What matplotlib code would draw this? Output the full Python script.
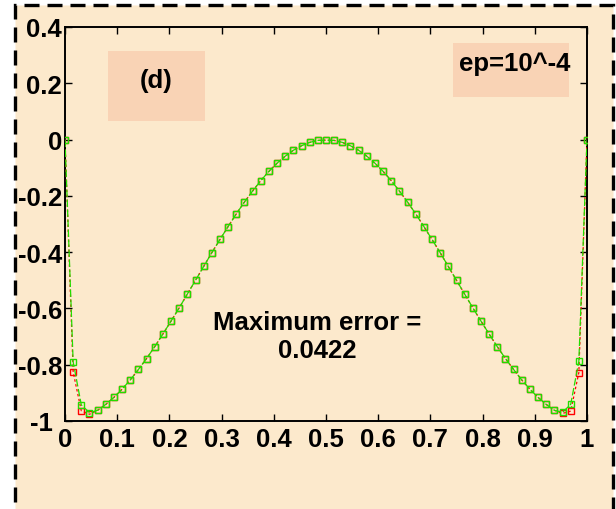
import numpy as np
import matplotlib
matplotlib.use("Agg")
import matplotlib.pyplot as plt
from matplotlib.patches import Rectangle
from matplotlib.transforms import ScaledTranslation

plt.rcParams['font.family'] = ['Liberation Sans', 'DejaVu Sans']
plt.rcParams['font.weight'] = 'bold'

# ---- data ----
n_pts = 65
x_vals = np.arange(n_pts) / (n_pts - 1)

half_interior = [-0.962, -0.941, -0.916, -0.887, -0.854, -0.817, -0.778, -0.736,
                 -0.691, -0.645, -0.598, -0.549, -0.500, -0.451, -0.402, -0.355,
                 -0.309, -0.264, -0.222, -0.183, -0.146, -0.113, -0.084, -0.059,
                 -0.038, -0.022, -0.010, -0.003]
peak = [-0.002]

green_left = [0.0, -0.790, -0.943, -0.970]
green_right = [-0.969, -0.941, -0.788, 0.0]
red_left = [0.0, -0.826, -0.964, -0.976]
red_right = [-0.973, -0.965, -0.828, 0.0]

green_vals = green_left + half_interior + peak + half_interior[::-1] + green_right
red_vals = red_left + half_interior + peak + half_interior[::-1] + red_right

x_ticks = [0, 0.1, 0.2, 0.3, 0.4, 0.5, 0.6, 0.7, 0.8, 0.9, 1]
x_tick_labels = ['0', '0.1', '0.2', '0.3', '0.4', '0.5', '0.6', '0.7', '0.8', '0.9', '1']
y_ticks = [-1, -0.8, -0.6, -0.4, -0.2, 0, 0.2, 0.4]
y_tick_labels = ['-1', '-0.8', '-0.6', '-0.4', '-0.2', '0', '0.2', '0.4']

label_d = '(d)'
label_ep = 'ep=10^-4'
error_text = 'Maximum error =\n0.0422'

beige = '#FCE9CC'
box_col = '#F9D3B5'

fig = plt.figure(figsize=(6.16, 5.10), dpi=100)
fig.patch.set_facecolor('white')
border = Rectangle((15/616, -0.05), (613-15)/616, 1.05 - 6/510,
                   transform=fig.transFigure, facecolor=beige, edgecolor='black',
                   linewidth=2.4, linestyle=(0, (4.5, 2.4)), zorder=-10)
fig.add_artist(border)

ax = fig.add_axes([65/616, 1-422/510, (587-65)/616, (422-28)/510])
ax.set_zorder(5)
ax.set_facecolor(beige)

ax.plot(x_vals, red_vals, color='red', linestyle=(0, (2, 2)), linewidth=0.9,
        marker='s', markersize=5, markerfacecolor='none', markeredgecolor='red',
        markeredgewidth=1.0, zorder=3)
ax.plot(x_vals, green_vals, color='#22DD00', linestyle=(0, (6, 2)), linewidth=0.9,
        marker='s', markersize=5, markerfacecolor='none', markeredgecolor='#22DD00',
        markeredgewidth=1.0, zorder=4)

ax.set_xlim(0, 1)
ax.set_ylim(-1, 0.4)
ax.set_xticks(x_ticks)
ax.set_xticklabels(x_tick_labels)
ax.set_yticks(y_ticks)
ax.set_yticklabels(y_tick_labels)
ax.tick_params(direction='in', top=True, right=True, length=5, width=1,
               labelsize=18.5)
ax.tick_params(axis='x', pad=4)
ax.tick_params(axis='y', pad=2)
for lab in ax.get_xticklabels() + ax.get_yticklabels():
    lab.set_fontweight('bold')
ylabs = ax.get_yticklabels()
ylabs[0].set_transform(ylabs[0].get_transform() +
                       ScaledTranslation(-9/100, 0, fig.dpi_scale_trans))
for sp in ax.spines.values():
    sp.set_linewidth(1.4)

ax.add_patch(Rectangle((0.082, 0.067), 0.186, 0.247, facecolor=box_col,
                       edgecolor='none', zorder=1))
ax.text(0.175, 0.21, label_d, ha='center', va='center', fontsize=18.5, fontweight='bold')
ax.add_patch(Rectangle((0.743, 0.152), 0.223, 0.191, facecolor=box_col,
                       edgecolor='none', zorder=1))
ax.text(0.968, 0.272, label_ep, ha='right', va='center', fontsize=18.5, fontweight='bold')

ax.text(0.483, -0.698, error_text, ha='center', va='center', fontsize=18.5,
        fontweight='bold', linespacing=1.2)

fig.savefig('out.png', dpi=100, facecolor=fig.get_facecolor())
